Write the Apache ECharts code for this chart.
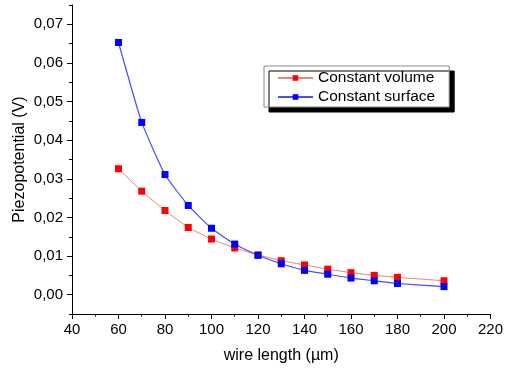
<!DOCTYPE html>
<html>
<head>
<meta charset="utf-8">
<script src="https://cdn.jsdelivr.net/npm/echarts@6/dist/echarts.min.js"></script>
<style>html,body{margin:0;padding:0;background:#fff}#c{width:506px;height:375px}</style>
</head>
<body>
<div id="c"></div>
<script>
const wireLength = [60, 70, 80, 90, 100, 110, 120, 130, 140, 150, 160, 170, 180, 200];
const constantVolume = [0.0326, 0.0268, 0.0218, 0.0174, 0.0144, 0.0121, 0.0103, 0.0088, 0.0077, 0.0066, 0.0057, 0.0050, 0.0045, 0.0036];
const constantSurface = [0.0653, 0.0446, 0.0311, 0.0231, 0.0172, 0.0131, 0.0102, 0.0080, 0.0063, 0.0053, 0.0043, 0.0036, 0.0029, 0.0021];
const yTickLabels = [0, 0.01, 0.02, 0.03, 0.04, 0.05, 0.06, 0.07];
const seriesNames = ['Constant volume', 'Constant surface'];

const font = 'Liberation Sans, Arial, sans-serif';
const chart = echarts.init(document.getElementById('c'), null, {renderer: 'canvas'});
const pairs = ys => wireLength.map((x, i) => [x, ys[i]]);

chart.setOption({
  animation: false,
  backgroundColor: '#fff',
  grid: {left: 72, right: 13, top: 5, bottom: 61, containLabel: false},
  legend: {
    orient: 'vertical',
    left: 264, top: 66,
    padding: [3, 14, 1, 13],
    backgroundColor: '#fff',
    borderColor: '#888', borderWidth: 1,
    shadowColor: '#000', shadowOffsetX: 5, shadowOffsetY: 5, shadowBlur: 0,
    itemWidth: 35, itemHeight: 7, itemGap: 1,
    textStyle: {fontFamily: font, fontSize: 15.5, color: '#000', lineHeight: 18},
    data: seriesNames
  },
  xAxis: {
    type: 'value', min: 40, max: 220, interval: 20,
    name: 'wire length (µm)', nameLocation: 'middle', nameGap: 34, nameMoveOverlap: false,
    nameTextStyle: {fontFamily: font, fontSize: 16, color: '#000'},
    axisLine: {show: true, onZero: false, lineStyle: {color: '#000', width: 1}},
    axisTick: {show: true, length: 5, lineStyle: {color: '#000'}},
    minorTick: {show: true, splitNumber: 2, length: 2.5, lineStyle: {color: '#000'}},
    axisLabel: {fontFamily: font, fontSize: 15, color: '#000', margin: 8},
    splitLine: {show: false}
  },
  yAxis: [{
    type: 'value', min: -0.005, max: 0.075, position: 'left',
    name: 'Piezopotential (V)', nameLocation: 'middle', nameGap: 44, nameMoveOverlap: false,
    nameTextStyle: {fontFamily: font, fontSize: 16, color: '#000'},
    axisLine: {show: true, onZero: false, lineStyle: {color: '#000', width: 1}},
    axisTick: {show: true, length: 5, customValues: yTickLabels, lineStyle: {color: '#000'}},
    axisLabel: {fontFamily: font, fontSize: 15, color: '#000', margin: 9, customValues: yTickLabels,
      formatter: v => v.toFixed(2).replace('.', ',')},
    splitLine: {show: false}
  }, {
    type: 'value', min: -0.005, max: 0.075, interval: 0.01, position: 'left', offset: 0,
    axisLine: {show: false},
    axisTick: {show: true, length: 3, lineStyle: {color: '#000'}},
    axisLabel: {show: false},
    splitLine: {show: false}
  }],
  series: [{
    name: seriesNames[0], type: 'line', smooth: 0.12, yAxisIndex: 0,
    data: pairs(constantVolume),
    symbol: 'rect', symbolSize: 7,
    itemStyle: {color: '#ff0000'},
    lineStyle: {color: '#f08080', width: 1}
  }, {
    name: seriesNames[1], type: 'line', smooth: 0.15, yAxisIndex: 0,
    data: pairs(constantSurface),
    symbol: 'rect', symbolSize: 7,
    itemStyle: {color: '#0000ff'},
    lineStyle: {color: '#4a4aff', width: 1.2}
  }]
});
</script>
</body>
</html>
